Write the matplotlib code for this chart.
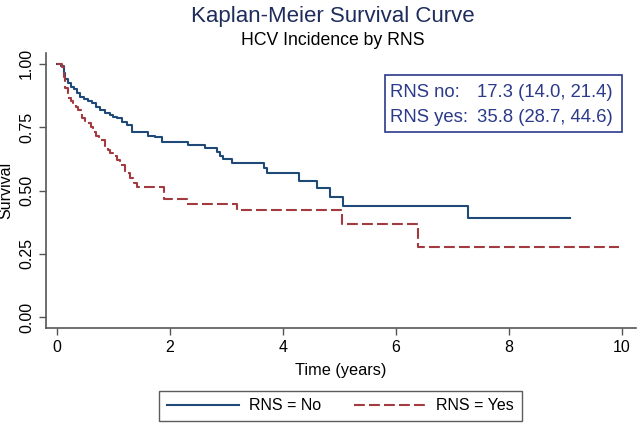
import numpy as np
import matplotlib
matplotlib.use('Agg')
import matplotlib.pyplot as plt
from matplotlib.lines import Line2D
from matplotlib.patches import Rectangle

plt.rcParams['font.family'] = ['Liberation Sans', 'DejaVu Sans']

# Kaplan-Meier step points (time in years, survival)
t_no = [0, 0.08, 0.12, 0.15, 0.2, 0.25, 0.3, 0.36, 0.42, 0.48, 0.55, 0.62, 0.7, 0.77,
        0.85, 0.94, 1.0, 1.06, 1.15, 1.24, 1.33, 1.62, 1.74, 1.86, 2.33, 2.62, 2.83,
        2.89, 2.95, 3.1, 3.66, 3.72, 4.28, 4.6, 4.84, 5.06, 7.28, 9.08]
s_no = [1.0, 0.99, 0.965, 0.94, 0.925, 0.91, 0.90, 0.885, 0.87, 0.86, 0.853, 0.845, 0.83,
        0.818, 0.808, 0.80, 0.79, 0.785, 0.772, 0.76, 0.73, 0.715, 0.71, 0.69, 0.68, 0.667,
        0.653, 0.638, 0.623, 0.607, 0.588, 0.568, 0.539, 0.511, 0.476, 0.44, 0.392, 0.392]

t_yes = [0, 0.09, 0.12, 0.15, 0.2, 0.25, 0.29, 0.34, 0.38, 0.44, 0.5, 0.56, 0.61, 0.65,
         0.7, 0.74, 0.85, 0.9, 0.94, 1.0, 1.06, 1.12, 1.21, 1.3, 1.36, 1.42, 1.89, 2.3,
         3.19, 5.04, 6.4, 9.95]
s_yes = [1.0, 0.987, 0.95, 0.904, 0.864, 0.855, 0.845, 0.83, 0.818, 0.785, 0.775, 0.765,
         0.752, 0.732, 0.715, 0.70, 0.673, 0.66, 0.647, 0.635, 0.62, 0.60, 0.568, 0.548,
         0.53, 0.515, 0.466, 0.447, 0.423, 0.368, 0.278, 0.278]

x_ticks = [0, 2, 4, 6, 8, 10]
y_ticks = [0.0, 0.25, 0.5, 0.75, 1.0]
box_names = ['RNS no:', 'RNS yes:']
box_values = ['17.3 (14.0, 21.4)', '35.8 (28.7, 44.6)']
legend_labels = ['RNS = No', 'RNS = Yes']

blue = '#1f4a78'
red = '#a33a40'
navy_text = '#2b3a8a'
dash = (0, (5.2, 2))

W, H = 638, 424
fig = plt.figure(figsize=(W / 100, H / 100), dpi=100)
ax = fig.add_axes([46 / W, 1 - 328 / H, 590 / W, 275 / H])

ax.step(t_no, s_no, where='post', color=blue, lw=1.5)
ax.step(t_yes, s_yes, where='post', color=red, lw=1.5, ls=dash)

ax.set_xlim(-0.19, 10.25)
ax.set_ylim(-0.043, 1.043)
ax.set_xticks(x_ticks)
ax.set_yticks(y_ticks)
ax.set_yticklabels(['%.2f' % v for v in y_ticks], rotation=90, va='center')
ax.tick_params(axis='both', labelsize=11.5, color='#555555', length=5, width=1)
for sp in ['top', 'right']:
    ax.spines[sp].set_visible(False)
for sp in ['left', 'bottom']:
    ax.spines[sp].set_color('#555555')
    ax.spines[sp].set_linewidth(1.2)

ax.set_xlabel('Time (years)', fontsize=11.7, labelpad=6)
ax.set_ylabel('Survival', fontsize=11.5, labelpad=4)

fig.text(0.521, 1 - 22 / H, 'Kaplan-Meier Survival Curve', ha='center', va='baseline',
         fontsize=16, color='#1e2d5c')
fig.text(0.521, 1 - 45 / H, 'HCV Incidence by RNS', ha='center', va='baseline', fontsize=12.7)

# info box with median values
fig.patches.append(Rectangle((385 / W, 1 - 132 / H), 237 / W, 57 / H, transform=fig.transFigure,
                             fc='white', ec=navy_text, lw=1.2))
for i in range(2):
    yb = 1 - (97 + i * 25) / H
    fig.text(390 / W, yb, box_names[i], ha='left', va='baseline', fontsize=13.3, color=navy_text)
    fig.text(477 / W, yb, box_values[i], ha='left', va='baseline', fontsize=13.3, color=navy_text)

handles = [Line2D([], [], color=blue, lw=1.5),
           Line2D([], [], color=red, lw=1.5, ls=dash)]
fig.legend(handles, legend_labels, loc='center', bbox_to_anchor=(340.5 / W, 1 - 406 / H), ncol=2,
           fontsize=11.5, frameon=True, fancybox=False, edgecolor='#333333',
           handlelength=4.5, handletextpad=0.6, columnspacing=2.1, borderpad=0.5,
           borderaxespad=0)

fig.savefig('out.png', dpi=100)
